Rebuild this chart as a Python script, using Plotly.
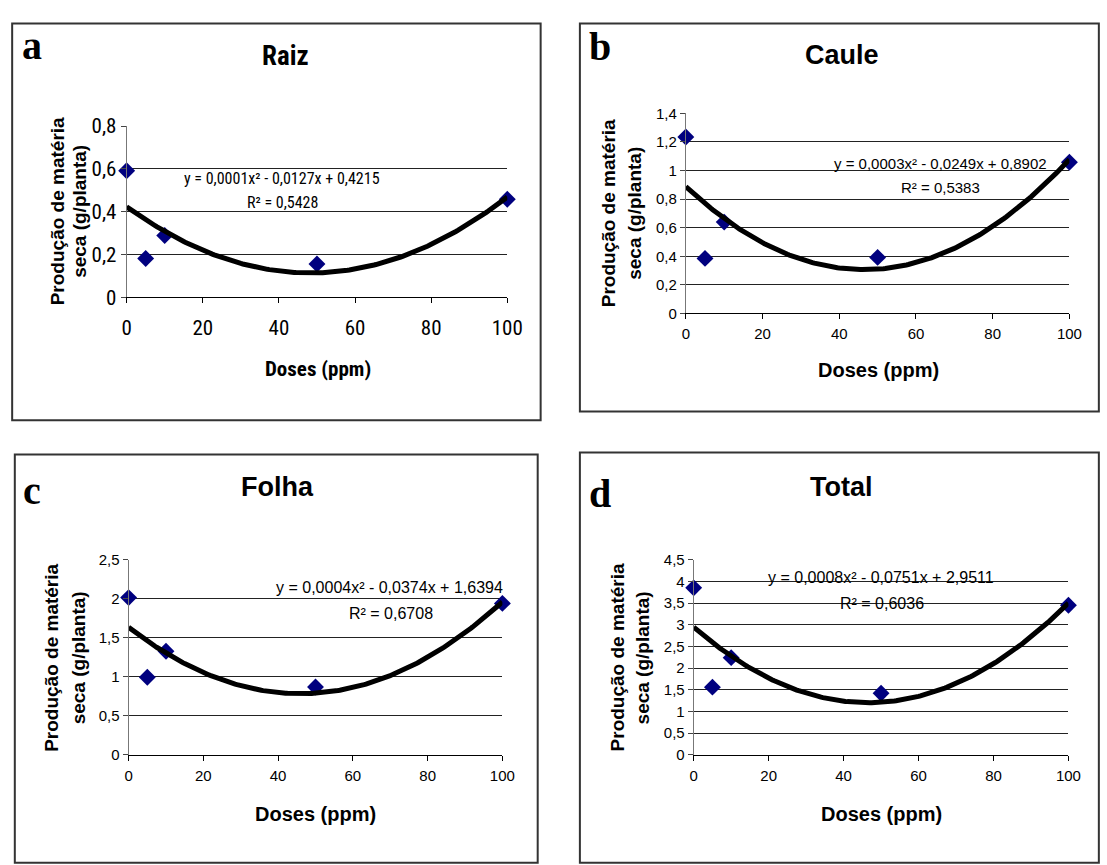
import numpy as np
import plotly.graph_objects as go

W, H = 1107, 865

# ---------------- data ----------------
doses = [0, 5, 10, 50, 100]
raiz = [0.591, 0.181, 0.288, 0.155, 0.458]
caule = [1.235, 0.385, 0.639, 0.392, 1.058]
folha = [2.014, 0.993, 1.326, 0.869, 1.94]
total = [3.85, 1.56, 2.24, 1.42, 3.45]

titles = ["Raiz", "Caule", "Folha", "Total"]
letters = ["a", "b", "c", "d"]
x_tickvals = [0, 20, 40, 60, 80, 100]
x_ticktext = ["0", "20", "40", "60", "80", "100"]

raiz_tickvals = [0, 0.2, 0.4, 0.6, 0.8]
raiz_ticktext = ["0", "0,2", "0,4", "0,6", "0,8"]
caule_tickvals = [0, 0.2, 0.4, 0.6, 0.8, 1.0, 1.2, 1.4]
caule_ticktext = ["0", "0,2", "0,4", "0,6", "0,8", "1", "1,2", "1,4"]
folha_tickvals = [0, 0.5, 1.0, 1.5, 2.0, 2.5]
folha_ticktext = ["0", "0,5", "1", "1,5", "2", "2,5"]
total_tickvals = [0, 0.5, 1.0, 1.5, 2.0, 2.5, 3.0, 3.5, 4.0, 4.5]
total_ticktext = ["0", "0,5", "1", "1,5", "2", "2,5", "3", "3,5", "4", "4,5"]

equations = [
    "y = 0,0001x² - 0,0127x + 0,4215",
    "y = 0,0003x² - 0,0249x + 0,8902",
    "y = 0,0004x² - 0,0374x + 1,6394",
    "y = 0,0008x² - 0,0751x + 2,9511",
]
r_squared = [
    "R² = 0,5428",
    "R² = 0,5383",
    "R² = 0,6708",
    "R² = 0,6036",
]
x_title = "Doses (ppm)"
y_title_lines = ["Produção de matéria", "seca (g/planta)"]

series = [raiz, caule, folha, total]
tickvals = [raiz_tickvals, caule_tickvals, folha_tickvals, total_tickvals]
ticktexts = [raiz_ticktext, caule_ticktext, folha_ticktext, total_ticktext]

# ---------------- layout (pixels) ----------------
ARIAL = "Liberation Sans, Arial, sans-serif"
NARROW = "Liberation Sans Narrow, Arial Narrow, Roboto Condensed, Liberation Sans, sans-serif"
TIMES = "Liberation Serif, Times New Roman, serif"

panels = [
    dict(px=(124, 512), py=(117.3, 293.3), box=(7.3, 11.7, 546, 420),
         tick_font=NARROW, tick_size=21, title_font=NARROW, title_xy=(286, 45.5),
         letter_xy=(28, 34), xt_xy=(319, 366.7), xt_font=NARROW, xt_size=21,
         yt_x=(53, 76), yt_y=205, eq_font=NARROW, eq_size=16,
         eq_xy=(282, 171), r2_xy=(283, 196), standoff=7),
    dict(px=(694, 1085), py=(104.3, 310), box=(586, 11.7, 1115, 411),
         tick_font=ARIAL, tick_size=15, title_font=ARIAL, title_xy=(853, 44),
         letter_xy=(606, 35), xt_xy=(890, 368.3), xt_font=ARIAL, xt_size=20,
         yt_x=(616, 642), yt_y=206.7, eq_font=ARIAL, eq_size=15,
         eq_xy=(953.5, 156), r2_xy=(954, 180), standoff=2),
    dict(px=(126, 507), py=(563.3, 764), box=(10, 455, 543, 875),
         tick_font=ARIAL, tick_size=15, title_font=ARIAL, title_xy=(278, 489),
         letter_xy=(28, 492.5), xt_xy=(317, 825), xt_font=ARIAL, xt_size=20,
         yt_x=(48, 75), yt_y=664.2, eq_font=ARIAL, eq_size=16,
         eq_xy=(392, 591.7), r2_xy=(393, 618.3), standoff=2),
    dict(px=(702, 1084), py=(563.3, 764), box=(586, 453, 1115, 875),
         tick_font=ARIAL, tick_size=15, title_font=ARIAL, title_xy=(853, 489),
         letter_xy=(606, 495), xt_xy=(893, 825), xt_font=ARIAL, xt_size=20,
         yt_x=(624.5, 650), yt_y=664.2, eq_font=ARIAL, eq_size=16,
         eq_xy=(893, 581.7), r2_xy=(894, 608.3), standoff=2),
]


def fx(p):
    return p / W


def fy(p):
    return 1 - p / H


fig = go.Figure()
layout = dict(
    width=W, height=H, autosize=False,
    margin=dict(l=0, r=0, t=0, b=0),
    paper_bgcolor="white", plot_bgcolor="white",
    showlegend=False,
)
annotations = []
shapes = []


def note(text, x, y, family, size, bold=False, angle=0):
    return dict(
        text=text, xref="paper", yref="paper", x=fx(x), y=fy(y),
        xanchor="center", yanchor="middle", showarrow=False, textangle=angle,
        font=dict(family=family, size=size, color="black",
                  weight="bold" if bold else "normal"))


for i, (ys, pan) in enumerate(zip(series, panels)):
    n = "" if i == 0 else str(i + 1)
    xa, ya = "x" + n, "y" + n
    # points
    fig.add_trace(go.Scatter(
        x=doses, y=ys, mode="markers", xaxis=xa, yaxis=ya,
        marker=dict(symbol="diamond", size=13, color="#00007f"),
        cliponaxis=False,
    ))
    # polynomial trend line fitted to the data
    coef = np.polyfit(doses, ys, 2)
    xs = np.linspace(0, 100, 201)
    fig.add_trace(go.Scatter(
        x=xs, y=np.polyval(coef, xs), mode="lines", xaxis=xa, yaxis=ya,
        line=dict(color="black", width=5), cliponaxis=False,
    ))
    ymax = tickvals[i][-1]
    layout["xaxis" + n] = dict(
        domain=[fx(pan["px"][0]), fx(pan["px"][1])], anchor=ya,
        range=[0, 100], tickvals=x_tickvals, ticktext=x_ticktext,
        ticks="outside", ticklen=5, tickcolor="black", tickwidth=1,
        showline=True, linecolor="black", linewidth=1,
        showgrid=False, zeroline=False,
        tickfont=dict(family=pan["tick_font"], size=pan["tick_size"], color="black"),
        ticklabelstandoff=pan["standoff"], fixedrange=True,
    )
    layout["yaxis" + n] = dict(
        domain=[fy(pan["py"][1]), fy(pan["py"][0])], anchor=xa,
        range=[0, ymax], tickvals=tickvals[i], ticktext=ticktexts[i],
        ticks="outside", ticklen=5, tickcolor="#444", tickwidth=1,
        showline=True, linecolor="#777", linewidth=1,
        showgrid=True, gridcolor="#222", gridwidth=1, zeroline=False,
        tickfont=dict(family=pan["tick_font"], size=pan["tick_size"], color="black"),
        fixedrange=True,
    )
    # box
    bx0, by0, bx1, by1 = pan["box"]
    shapes.append(dict(type="rect", xref="paper", yref="paper",
                       x0=fx(bx0), x1=fx(bx1), y0=fy(by1), y1=fy(by0),
                       line=dict(color="#333", width=2), layer="below"))
    annotations.append(note(titles[i], *pan["title_xy"], pan["title_font"], 27, bold=True))
    annotations.append(note(letters[i], *pan["letter_xy"], TIMES, 40, bold=True))
    annotations.append(note(x_title, *pan["xt_xy"], pan["xt_font"], pan["xt_size"], bold=True))
    for k, line in enumerate(y_title_lines):
        annotations.append(note(line, pan["yt_x"][k], pan["yt_y"], ARIAL, 19,
                                bold=True, angle=-90))
    annotations.append(note(equations[i], *pan["eq_xy"], pan["eq_font"], pan["eq_size"]))
    annotations.append(note(r_squared[i], *pan["r2_xy"], pan["eq_font"], pan["eq_size"]))

layout["annotations"] = annotations
layout["shapes"] = shapes
fig.update_layout(**layout)

fig.write_html(
    "out.html",
    config={"displayModeBar": False},
    post_script="document.body.style.margin='0';document.body.style.overflow='hidden';",
)
